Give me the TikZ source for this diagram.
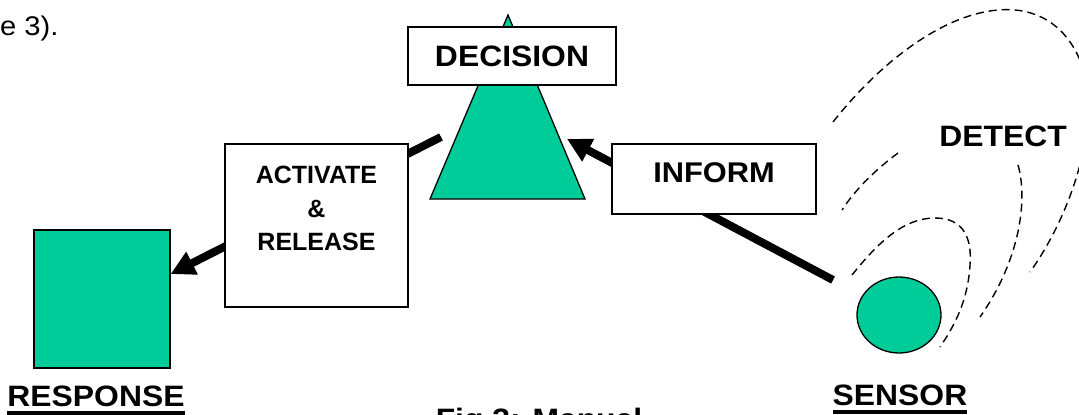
\documentclass[tikz,border=0pt]{standalone}
\usepackage{fontspec}
\setmainfont{Liberation Sans}[FakeStretch=1.08]
\newfontfamily\narrowsans{Liberation Sans}
\usepackage{tikz}
\usetikzlibrary{positioning, arrows.meta, shapes.geometric}
\usepackage{xcolor}
\definecolor{seagreen}{RGB}{0,204,153}

\begin{document}
\begin{tikzpicture}[x=1pt, y=-1pt, >={Stealth[inset=0pt,length=24pt,width=24pt]},
                    box/.style={draw, line width=1.3pt, fill=white},
                    lbl/.style={font=\fontsize{29.5}{35}\selectfont\bfseries, inner sep=0pt},
                    conn/.style={line width=8pt},
                    uline/.style={line width=3.5pt},
                    wave/.style={line width=1.4pt, dash pattern=on 8pt off 5pt}]
    \useasboundingbox (0,0) rectangle (1079,415);
    \clip (0,0) rectangle (1079,415);

    \node[anchor=base west, inner sep=0pt, font=\fontsize{27}{32}\selectfont] (prev) at (0,35) {e 3).};

    % decision triangle
    \coordinate (apex) at (508,15);
    \coordinate (decL) at (441,137);
    \coordinate (decR) at (567,139);
    \draw[fill=seagreen, line width=1.3pt] (apex) -- (585,199) -- (430,199) -- cycle;

    \node[draw, line width=1.3pt, fill=seagreen, minimum width=136pt, minimum height=138pt] (resp) at (102,299) {};
    \node[ellipse, draw, line width=1.3pt, fill=seagreen, minimum width=84pt, minimum height=76pt, inner sep=0pt] (sensor) at (899,315) {};

    \path[->, conn]
        (decL) edge (resp.20)
        (sensor) edge [shorten <=33pt] (decR);

    \node[box, minimum width=208pt, minimum height=58pt, font=\fontsize{29.5}{35}\selectfont\bfseries] (decision) at (512,56) {DECISION};
    \node[box, minimum width=183pt, minimum height=163pt, align=center, text depth=34pt,
          font=\narrowsans\fontsize{25}{33.5}\selectfont\bfseries] (activate) at (316.5,225.5) {ACTIVATE\\\&\\RELEASE};
    \node[box, minimum width=204pt, minimum height=70pt, text depth=12pt, font=\fontsize{28.5}{34}\selectfont\bfseries] (inform) at (714,179) {INFORM};

    % detection range
    \draw[wave] (833,122) .. controls (890,50) and (960,5) .. (1015,10)
                          .. controls (1070,15) and (1092,70) .. (1088,115)
                          .. controls (1085,170) and (1060,230) .. (1030,272);
    \draw[wave] (898,153) .. controls (875,170) and (855,190) .. (842,210);
    \draw[wave] (1018,165) .. controls (1028,200) and (1020,260) .. (980,317);
    \draw[wave] (852,275) .. controls (880,240) and (905,218) .. (935,218)
                          .. controls (965,218) and (972,240) .. (970,265)
                          .. controls (968,300) and (955,325) .. (940,347);
    \node[lbl] (detect) at (1003,136) {DETECT};

    \node[lbl, anchor=base] (resplbl) at (96,406) {RESPONSE};
    \draw[uline] ([yshift=-7pt]resplbl.base west) -- ([yshift=-7pt]resplbl.base east);
    \node[lbl, anchor=base] (senslbl) at (900,405) {SENSOR};
    \draw[uline] ([yshift=-7pt]senslbl.base west) -- ([yshift=-7pt]senslbl.base east);

    \node[lbl, anchor=base] (figcap) at (539,429) {Fig 3: Manual};
\end{tikzpicture}
\end{document}
